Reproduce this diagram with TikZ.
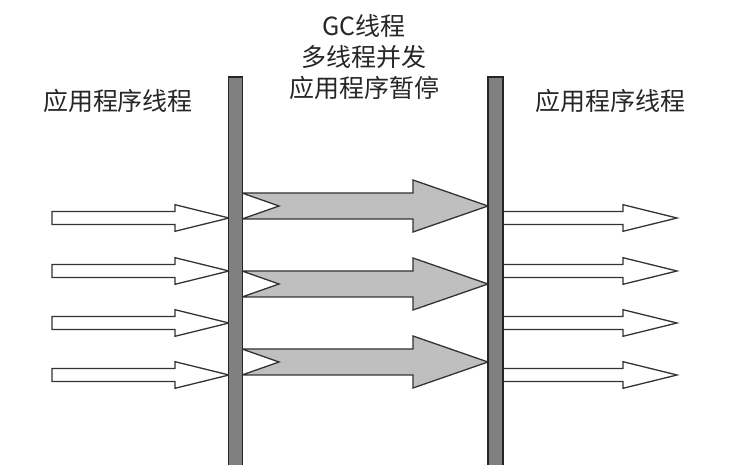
\documentclass[tikz,border=0pt]{standalone}
\usepackage{fontspec}
\newfontfamily\cjk{Noto Sans CJK SC}

\begin{document}
\begin{tikzpicture}[x=1pt,y=-1pt,
  wire/.style={line width=1.3pt,draw=black!80,line join=miter},
  appthread/.style={wire,fill=white},
  gcthread/.style={wire,fill=black!25},
  pausebar/.style={line width=1.3pt,draw=black!85,fill=black!50},
  caption/.style={font=\cjk\fontsize{25}{31}\selectfont,align=center,text=black!85}]
\clip (0,0) rectangle (732,465);
% application threads before the pause
\foreach \y in {218,271,323,375}
  \draw[appthread] (52,\y-6.5) -- (175,\y-6.5) -- (175,\y-13.3) -- (229,\y)
    -- (175,\y+13.3) -- (175,\y+6.5) -- (52,\y+6.5) -- cycle;
% GC threads
\foreach \y in {206,284,362}
  \draw[gcthread] (242,\y-13) -- (413,\y-13) -- (413,\y-26) -- (488,\y)
    -- (413,\y+26) -- (413,\y+13) -- (242,\y+13) -- (279,\y) -- cycle;
% application threads after the pause
\foreach \y in {218,271,323,375}
  \draw[appthread] (502,\y-6.5) -- (623,\y-6.5) -- (623,\y-13.3) -- (677,\y)
    -- (623,\y+13.3) -- (623,\y+6.5) -- (502,\y+6.5) -- cycle;
% pause lines
\draw[pausebar] (228.5,77) rectangle (242.5,480);
\draw[pausebar] (488,77) rectangle (503,480);
\node[caption] (gc) at (364,57) {GC线程\\多线程并发\\应用程序暂停};
\node[caption] (appbefore) at (118,101) {应用程序线程};
\node[caption] (appafter) at (610,101) {应用程序线程};
\end{tikzpicture}
\end{document}
